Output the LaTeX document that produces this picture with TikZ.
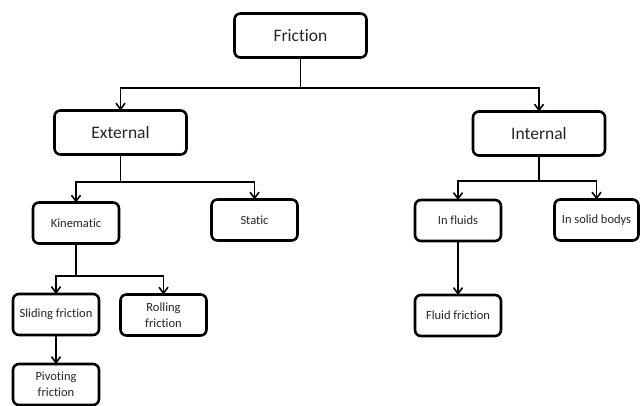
\documentclass[tikz,border=0pt]{standalone}
\usepackage{fontspec}
\setmainfont{Carlito}[Ligatures={NoCommon,NoContextual,NoRare}]
\usetikzlibrary{arrows.meta}
\begin{document}
\begin{tikzpicture}[x=1pt,y=-1pt,
  box/.style={draw=black,line width=2.6pt,rounded corners=6pt,fill=white,
    text=black!85,align=center,inner sep=1pt,outer sep=0pt},
  bigbox/.style={box,minimum width=132pt,minimum height=44pt,font=\fontsize{17.5}{20}\selectfont},
  smallbox/.style={box,minimum width=86pt,minimum height=41pt,font=\fontsize{12.5}{16}\selectfont},
  conn/.style={line width=1.6pt,draw=black},
  arr/.style={conn,-{Straight Barb[length=6pt,width=9pt,line width=1.6pt]}}]
\useasboundingbox (0,0) rectangle (640,405);
\node[bigbox] (fric) at (300.5,35.5) {Friction};
\node[bigbox] (ext) at (120.5,132.5) {External};
\node[bigbox] (int) at (539,133.5) {Internal};
\node[smallbox] (kin) at (76,223) {Kinematic};
\node[smallbox] (stat) at (254.5,220) {Static};
\node[smallbox] (fluids) at (458,220.5) {In fluids};
\node[smallbox,minimum width=84pt] (solid) at (596.5,220) {In solid bodys};
\node[smallbox] (fluidf) at (458,315.5) {Fluid friction};
\node[smallbox] (slide) at (56,314.5) {Sliding friction};
\node[smallbox] (roll) at (163.5,315) {Rolling\\friction};
\node[smallbox] (pivot) at (56,384.5) {Pivoting\\friction};
\coordinate (j1) at (300.5,88);
\coordinate (j2) at (120.5,182);
\coordinate (j3) at (539,181);
\coordinate (j4) at (76,276);
\draw[conn] (fric.south) -- (j1);
\draw[arr] (j1) -| (ext.north);
\draw[arr] (j1) -| (int.north);
\draw[conn] (ext.south) -- (j2);
\draw[arr] (j2) -| (kin.north);
\draw[arr] (j2) -| (stat.north);
\draw[conn] (int.south) -- (j3);
\draw[arr] (j3) -| (fluids.north);
\draw[arr] (j3) -| (solid.north);
\draw[arr] (fluids.south) -- (fluidf.north);
\draw[conn] (kin.south) -- (j4);
\draw[arr] (j4) -| (slide.north);
\draw[arr] (j4) -| (roll.north);
\draw[arr] (slide.south) -- (pivot.north);
\end{tikzpicture}
\end{document}
